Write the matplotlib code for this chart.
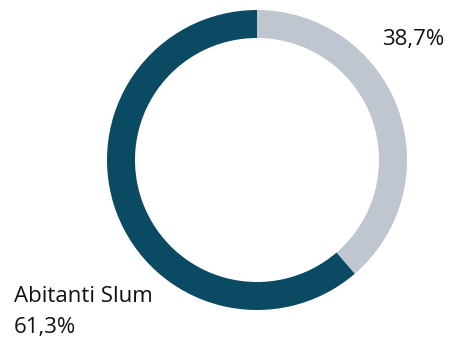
import matplotlib
matplotlib.use("Agg")
import matplotlib.pyplot as plt

categories = ["Altro", "Abitanti Slum"]
values = [38.7, 61.3]
label_top = "38,7%"
label_bottom = ["Abitanti Slum", "61,3%"]
colors = ["#C0C6D0", "#0B4A63"]

W, H = 451, 337
fig = plt.figure(figsize=(W/100, H/100), dpi=100)
ax = fig.add_axes([0, 0, 1, 1])

cx, cy, r = 257, H - 160, 150
ax.pie(values, colors=colors, startangle=90, counterclock=False,
       center=(cx, cy), radius=r, frame=True,
       wedgeprops=dict(width=28, linewidth=0))
ax.set_xlim(0, W)
ax.set_ylim(0, H)
ax.set_aspect("equal")
ax.axis("off")

font = ["Open Sans", "DejaVu Sans"]
fs = 16
ax.text(382, H - 45, label_top, fontsize=fs, family=font, va="baseline", ha="left", color="#111111")
ax.text(14, H - 302, label_bottom[0], fontsize=fs, family=font, va="baseline", ha="left", color="#111111")
ax.text(14, H - 333, label_bottom[1], fontsize=fs, family=font, va="baseline", ha="left", color="#111111")

fig.savefig("out.png", dpi=100)
